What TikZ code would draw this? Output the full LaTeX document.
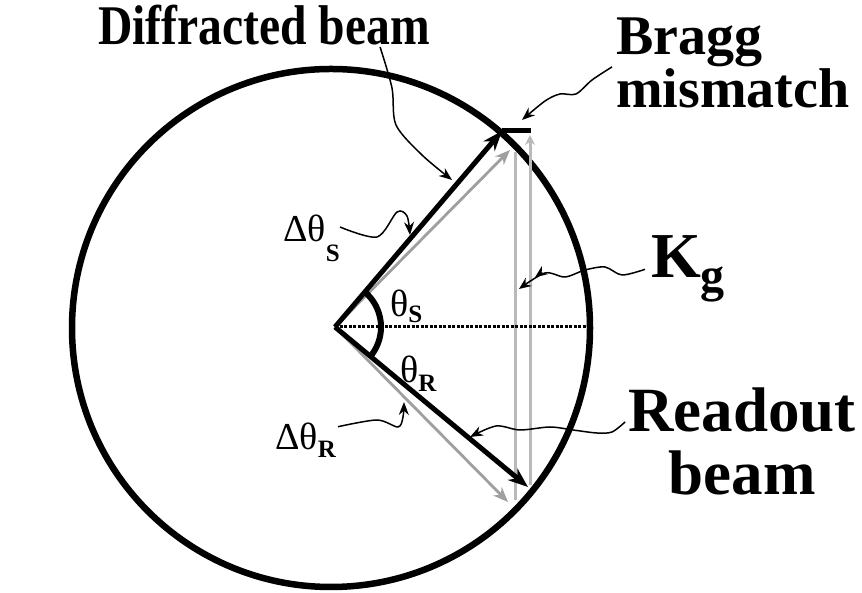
\documentclass[tikz,border=0pt]{standalone}
\usepackage{fontspec}
\usepackage{graphicx}
\setmainfont{Liberation Serif}
\usetikzlibrary{arrows.meta, calc}

\newcommand{\beamsub}[2]{\raisebox{-#1}{\fontsize{25}{25}\selectfont\bfseries #2}}

\begin{document}
\begin{tikzpicture}[
  x=1pt, y=1pt,
  sphere/.style={line width=6.5pt},
  beam/.style={line width=5pt, -{Stealth[length=20pt, width=15pt]}},
  offbeam/.style={line width=2.8pt, draw=gray!75, -{Stealth[length=15pt, width=12pt]}},
  kvec/.style={line width=3pt, draw=gray!55},
  axis/.style={line width=3pt, dash pattern=on 3pt off 1.5pt},
  pointer/.style={line width=1.5pt, -{Stealth[length=13pt, width=10pt]}},
  biglabel/.style={font=\fontsize{56}{56}\selectfont\bfseries, inner sep=0pt},
  anglabel/.style={font=\fontsize{38}{40}\selectfont, inner sep=0pt}
]
\useasboundingbox (0,0) rectangle (862,593);

% Ewald circle
\coordinate (C) at (331,265);
\draw[sphere] (C) circle[radius=259];

% beam tips
\coordinate (O) at (335,266);
\coordinate (D) at (502,462);
\coordinate (R) at (528,106);
\coordinate (Dm) at (510,443);
\coordinate (Rm) at (508,91);
\coordinate (E) at (589,266);
\coordinate (Dbar) at (531,462);

% grating vector
\draw[kvec] (515,93) -- (515,441);
\draw[kvec, -{Stealth[length=10pt, width=10pt]}] (530,108) -- (530,458);

\draw[axis] (O) -- (E);
\draw[offbeam] (O) -- (Dm);
\draw[offbeam] (O) -- (Rm);
\draw[beam] (O) -- (D);
\draw[beam] (O) -- (R);
\draw[line width=5pt] (D) -- (Dbar);

% angle between the beams
\draw[line width=6pt] (O) ++(50:46) arc[start angle=50, end angle=-42, radius=46];

% labels
\node[biglabel, anchor=base] (diff) at (264,548) {\scalebox{0.85}[1]{Diffracted beam}};
\node[biglabel, anchor=north west, align=left, font=\fontsize{56}{44}\selectfont\bfseries] (bragg) at (616,575) {Bragg\\mismatch};
\node[biglabel, anchor=north, align=center, font=\fontsize{63}{63}\selectfont\bfseries] (read) at (742,205) {Readout\\beam};
\node[anchor=base west, inner sep=0pt] (kg) at (651,315) {\fontsize{64}{64}\selectfont\bfseries K\raisebox{-14pt}{\fontsize{48}{48}\selectfont g}};
\node[anchor=base west, anglabel] (dS) at (283,351) {Δθ\beamsub{20pt}{S}};
\node[anchor=base west, anglabel] (dR) at (275,143) {Δθ\beamsub{8pt}{R}};
\node[anchor=base west, anglabel] (tS) at (390,276) {θ\beamsub{6pt}{S}};
\node[anchor=base west, anglabel] (tR) at (400,210) {θ\beamsub{9pt}{R}};

% pointers
\coordinate (pdiff) at ($(diff.base east)+(-50,-2)$);
\draw[pointer] plot[smooth] coordinates {(pdiff) (392,505) (396,468) (422,438) (452,413)};
\draw[pointer] plot[smooth] coordinates {($(bragg.west)+(-4,-4)$) (592,513) (576,499) (560,499) (545,492) (522,473)};
\draw[pointer, -{Stealth[length=12pt, width=10pt, sep=8pt] Stealth[length=12pt, width=10pt]}] plot[smooth] coordinates {($(kg.west)+(-6,0)$) (622,318) (605,326) (585,323) (565,316) (545,320) (519,304)};
\draw[pointer] plot[smooth] coordinates {($(read.north west)+(-3,-34)$) (612,161) (597,160) (573,163) (550,166) (520,163) (496,167) (470,156)};
\draw[pointer] plot[smooth] coordinates {(dS.east |- 0,366) (377,356) (397,381) (407,377) (410,358)};
\draw[pointer] plot[smooth] coordinates {($(dR.east)+(2,14)$) (377,173) (398,166) (403,176) (404,191)};
\end{tikzpicture}
\end{document}
